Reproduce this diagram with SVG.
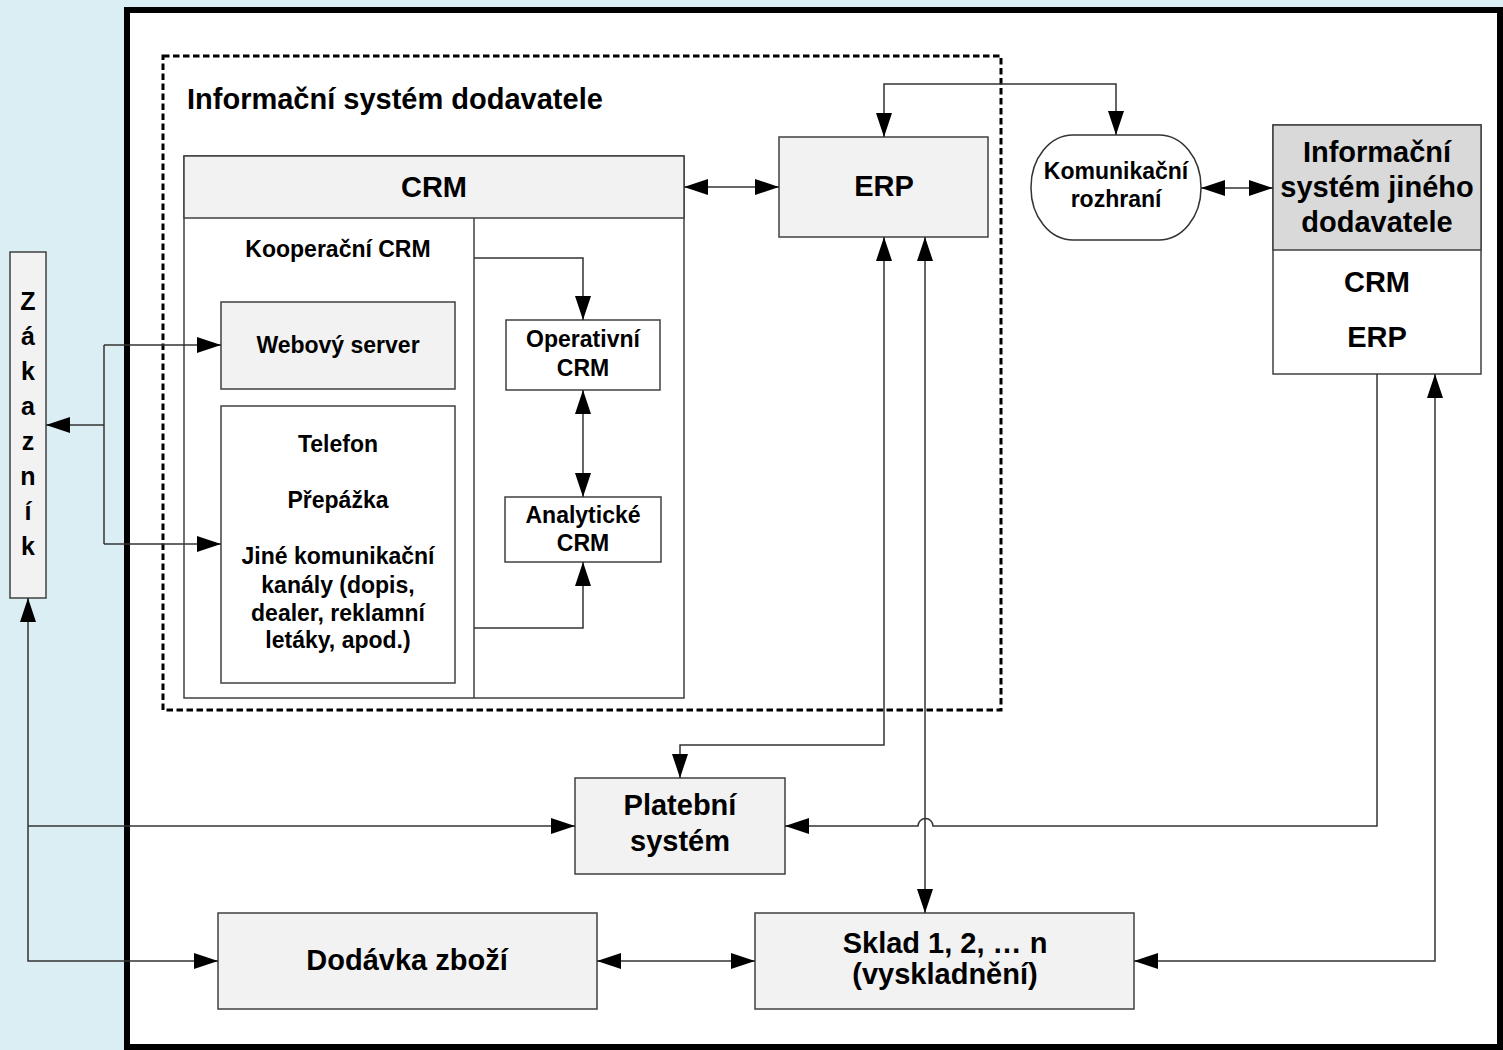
<svg xmlns="http://www.w3.org/2000/svg" width="1503" height="1050" viewBox="0 0 1503 1050">
<style>
text{font-family:"Liberation Sans",Arial,Helvetica,sans-serif;font-weight:bold;fill:#000;text-anchor:middle}
.big{font-size:29px}
.med{font-size:23px}
.box{fill:#F2F2F2;stroke:#404040;stroke-width:1.5}
.wbox{fill:#FFFFFF;stroke:#404040;stroke-width:1.5}
.dbox{fill:#D9D9D9;stroke:#404040;stroke-width:1.5}
.con{fill:none;stroke:#333;stroke-width:1.5}
.a2{marker-start:url(#ah);marker-end:url(#ah)}
.a1{marker-end:url(#ah)}
</style>
<defs>
<marker id="ah" markerUnits="userSpaceOnUse" markerWidth="24" markerHeight="16" refX="24" refY="8" orient="auto-start-reverse" viewBox="0 0 24 16">
<path d="M0,0 L24,8 L0,16 Z" fill="#000"/>
</marker>
</defs>
<rect x="0" y="0" width="1503" height="1050" fill="#DAEEF3"/>
<rect id="frame" x="127" y="10" width="1373" height="1037" fill="#FFFFFF" stroke="#000" stroke-width="6"/>

<g id="is-dodavatele">
<rect x="163" y="56" width="838" height="654" fill="none" stroke="#000" stroke-width="3" stroke-dasharray="6.5 3.5"/>
<text class="big" x="187" y="109" style="text-anchor:start">Informační systém dodavatele</text>
</g>

<g id="crm">
<rect class="wbox" x="184" y="156" width="500" height="542"/>
<rect class="box" x="184" y="156" width="500" height="62"/>
<text class="big" x="434" y="197">CRM</text>
<line x1="474" y1="218" x2="474" y2="698" stroke="#404040" stroke-width="1.5"/>
<text class="med" x="338" y="257">Kooperační CRM</text>
</g>

<g id="webovy-server">
<rect class="box" x="221" y="302" width="234" height="87"/>
<text class="med" x="338" y="353">Webový server</text>
</g>

<g id="kanaly">
<rect class="wbox" x="221" y="406" width="234" height="277"/>
<text class="med" x="338" y="452">Telefon</text>
<text class="med" x="338" y="508">Přepážka</text>
<text class="med" x="338" y="564">Jiné komunikační</text>
<text class="med" x="338" y="593">kanály (dopis,</text>
<text class="med" x="338" y="621">dealer, reklamní</text>
<text class="med" x="338" y="648">letáky, apod.)</text>
</g>

<g id="operativni-crm">
<rect class="wbox" x="506" y="320" width="154" height="70"/>
<text class="med" x="583" y="347">Operativní</text>
<text class="med" x="583" y="376">CRM</text>
</g>

<g id="analyticke-crm">
<rect class="wbox" x="505" y="497" width="156" height="65"/>
<text class="med" x="583" y="523">Analytické</text>
<text class="med" x="583" y="551">CRM</text>
</g>

<g id="erp">
<rect class="box" x="779" y="137" width="209" height="100"/>
<text class="big" x="884" y="196">ERP</text>
</g>

<g id="komunikacni-rozhrani">
<rect x="1031" y="135" width="170" height="105" rx="42" ry="52" fill="#FFFFFF" stroke="#333" stroke-width="1.5"/>
<text class="med" x="1116" y="179">Komunikační</text>
<text class="med" x="1116" y="207">rozhraní</text>
</g>

<g id="is-jineho-dodavatele">
<rect class="wbox" x="1273" y="125" width="208" height="249"/>
<rect class="dbox" x="1273" y="125" width="208" height="125"/>
<text class="big" x="1377" y="162">Informační</text>
<text class="big" x="1377" y="197">systém jiného</text>
<text class="big" x="1377" y="232">dodavatele</text>
<text class="big" x="1377" y="292">CRM</text>
<text class="big" x="1377" y="347">ERP</text>
</g>

<g id="zakaznik">
<rect class="box" x="10" y="252" width="36" height="346"/>
<text style="font-size:25px" x="28" y="310">Z</text>
<text style="font-size:25px" x="28" y="345">á</text>
<text style="font-size:25px" x="28" y="380">k</text>
<text style="font-size:25px" x="28" y="415">a</text>
<text style="font-size:25px" x="28" y="450">z</text>
<text style="font-size:25px" x="28" y="485">n</text>
<text style="font-size:25px" x="28" y="520">í</text>
<text style="font-size:25px" x="28" y="555">k</text>
</g>

<g id="platebni-system">
<rect class="box" x="575" y="778" width="210" height="96"/>
<text class="big" x="680" y="815">Platební</text>
<text class="big" x="680" y="851">systém</text>
</g>

<g id="dodavka-zbozi">
<rect class="box" x="218" y="913" width="379" height="96"/>
<text class="big" x="407" y="970">Dodávka zboží</text>
</g>

<g id="sklad">
<rect class="box" x="755" y="913" width="379" height="96"/>
<text class="big" x="945" y="953">Sklad 1, 2, … n</text>
<text class="big" x="945" y="984">(vyskladnění)</text>
</g>

<g id="connectors">
<path class="con a1" d="M104,425 H46"/>
<path class="con" d="M104,345 V544"/>
<path class="con a1" d="M104,345 H221"/>
<path class="con a1" d="M104,544 H221"/>
<path class="con a2" d="M684,187 H779"/>
<path class="con a2" d="M884,137 V84 H1116 V135"/>
<path class="con a2" d="M1201,188 H1273"/>
<path class="con a1" d="M474,258 H583 V320"/>
<path class="con a2" d="M583,390 V497"/>
<path class="con a1" d="M474,628 H583 V562"/>
<path class="con a2" d="M884,237 V745 H680 V778"/>
<path class="con a2" d="M925,237 V913"/>
<path class="con a2" d="M28,598 V961 H218"/>
<path class="con a1" d="M28,826 H575"/>
<path class="con a1" d="M1377,374 V826 H933 A7.5,7.5 0 0 0 918,826 H785"/>
<path class="con a2" d="M1134,961 H1435 V374"/>
<path class="con a2" d="M597,961 H755"/>
</g>
</svg>
